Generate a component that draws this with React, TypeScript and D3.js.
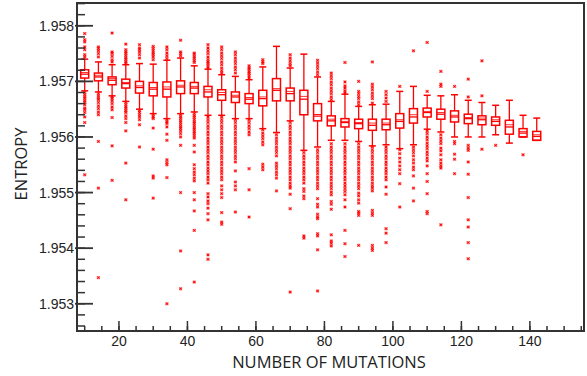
import React from 'react';
import * as d3 from 'd3';

// number of mutations for each box
const mutations = [10, 14, 18, 22, 26, 30, 34, 38, 42, 46, 50, 54, 58, 62, 66, 70, 74, 78, 82, 86, 90, 94, 98, 102, 106, 110, 114, 118, 122, 126, 130, 134, 138, 142];

const whiskerHigh = [1.95740, 1.95735, 1.95730, 1.95730, 1.95732, 1.95731, 1.95738, 1.95742, 1.95728, 1.95722, 1.95712, 1.95709, 1.95703, 1.95726, 1.95763, 1.95724, 1.95749, 1.95708, 1.95664, 1.95677, 1.95655, 1.95658, 1.95659, 1.95682, 1.95691, 1.95675, 1.95674, 1.95676, 1.95666, 1.95662, 1.95657, 1.95666, 1.95639, 1.95634];
const q3Values = [1.95721, 1.95715, 1.95708, 1.95704, 1.95700, 1.95698, 1.95699, 1.95701, 1.95698, 1.95691, 1.95685, 1.95681, 1.95678, 1.95684, 1.95705, 1.95688, 1.95684, 1.95660, 1.95638, 1.95633, 1.95632, 1.95632, 1.95632, 1.95642, 1.95651, 1.95652, 1.95650, 1.95647, 1.95641, 1.95638, 1.95636, 1.95630, 1.95615, 1.95610];
const medianValues = [1.95713, 1.95708, 1.95702, 1.95696, 1.95689, 1.95686, 1.95686, 1.95690, 1.95688, 1.95681, 1.95676, 1.95672, 1.95668, 1.95669, 1.95684, 1.95678, 1.95668, 1.95640, 1.95629, 1.95626, 1.95624, 1.95621, 1.95622, 1.95628, 1.95636, 1.95644, 1.95641, 1.95636, 1.95633, 1.95631, 1.95628, 1.95618, 1.95607, 1.95601];
const meanValues = [1.95716, 1.95711, 1.95705, 1.95698, 1.95692, 1.95689, 1.95690, 1.95693, 1.95691, 1.95685, 1.95680, 1.95675, 1.95671, 1.95672, 1.95687, 1.95682, 1.95673, 1.95637, 1.95632, 1.95628, 1.95626, 1.95625, 1.95625, 1.95631, 1.95640, 1.95646, 1.95644, 1.95639, 1.95635, 1.95634, 1.95631, 1.95622, 1.95610, 1.95604];
const q1Values = [1.95706, 1.95701, 1.95694, 1.95688, 1.95679, 1.95674, 1.95672, 1.95678, 1.95678, 1.95672, 1.95666, 1.95662, 1.95660, 1.95656, 1.95665, 1.95665, 1.95640, 1.95629, 1.95620, 1.95618, 1.95615, 1.95612, 1.95613, 1.95616, 1.95625, 1.95636, 1.95632, 1.95627, 1.95624, 1.95622, 1.95621, 1.95605, 1.95600, 1.95594];
const whiskerLow = [1.95683, 1.95681, 1.95674, 1.95664, 1.95650, 1.95642, 1.95633, 1.95642, 1.95645, 1.95639, 1.95639, 1.95633, 1.95633, 1.95615, 1.95608, 1.95629, 1.95576, 1.95582, 1.95594, 1.95594, 1.95592, 1.95584, 1.95586, 1.95579, 1.95586, 1.95614, 1.95609, 1.95600, 1.95600, 1.95600, 1.95604, 1.95589, 1.95600, 1.95594];

const outliers = [
  [1.95786, 1.95775, 1.95771, 1.95762, 1.95757, 1.95748, 1.95744, 1.95680, 1.95676, 1.95672, 1.95669, 1.95665, 1.95662, 1.95658, 1.95652, 1.95649, 1.95644, 1.95636, 1.95626, 1.95532],
  [1.95762, 1.95759, 1.95755, 1.95750, 1.95744, 1.95678, 1.95674, 1.95670, 1.95667, 1.95662, 1.95656, 1.95651, 1.95645, 1.95640, 1.95592, 1.95508, 1.95347],
  [1.95787, 1.95753, 1.95750, 1.95745, 1.95739, 1.95735, 1.95672, 1.95669, 1.95665, 1.95660, 1.95654, 1.95649, 1.95635, 1.95584, 1.95522],
  [1.95767, 1.95757, 1.95753, 1.95750, 1.95746, 1.95742, 1.95739, 1.95735, 1.95732, 1.95662, 1.95658, 1.95654, 1.95651, 1.95647, 1.95644, 1.95638, 1.95633, 1.95626, 1.95611, 1.95553, 1.95487],
  [1.95766, 1.95760, 1.95757, 1.95753, 1.95748, 1.95742, 1.95647, 1.95644, 1.95640, 1.95636, 1.95631, 1.95622, 1.95582],
  [1.95763, 1.95759, 1.95755, 1.95751, 1.95748, 1.95744, 1.95739, 1.95640, 1.95636, 1.95633, 1.95616, 1.95578, 1.95530, 1.95526, 1.95490],
  [1.95762, 1.95757, 1.95751, 1.95746, 1.95741, 1.95631, 1.95627, 1.95624, 1.95618, 1.95605, 1.95594, 1.95559, 1.95554, 1.95550, 1.95527, 1.95300],
  [1.95774, 1.95753, 1.95750, 1.95746, 1.95640, 1.95636, 1.95633, 1.95629, 1.95626, 1.95622, 1.95618, 1.95615, 1.95611, 1.95606, 1.95600, 1.95585, 1.95500, 1.95395, 1.95327],
  [1.95751, 1.95748, 1.95744, 1.95741, 1.95737, 1.95734, 1.95642, 1.95638, 1.95635, 1.95631, 1.95627, 1.95624, 1.95620, 1.95616, 1.95613, 1.95609, 1.95606, 1.95602, 1.95598, 1.95585, 1.95573, 1.95550, 1.95543, 1.95537, 1.95532, 1.95526, 1.95521, 1.95500, 1.95487, 1.95467, 1.95432, 1.95339],
  [1.95766, 1.95760, 1.95755, 1.95750, 1.95744, 1.95739, 1.95735, 1.95732, 1.95728, 1.95724, 1.95636, 1.95631, 1.95626, 1.95620, 1.95615, 1.95609, 1.95604, 1.95598, 1.95593, 1.95588, 1.95582, 1.95577, 1.95572, 1.95566, 1.95561, 1.95555, 1.95550, 1.95544, 1.95539, 1.95534, 1.95528, 1.95523, 1.95517, 1.95498, 1.95492, 1.95485, 1.95480, 1.95472, 1.95462, 1.95451, 1.95388, 1.95380],
  [1.95762, 1.95757, 1.95751, 1.95746, 1.95741, 1.95735, 1.95730, 1.95724, 1.95719, 1.95715, 1.95636, 1.95631, 1.95626, 1.95620, 1.95615, 1.95609, 1.95604, 1.95598, 1.95593, 1.95588, 1.95582, 1.95577, 1.95572, 1.95566, 1.95561, 1.95555, 1.95550, 1.95544, 1.95539, 1.95534, 1.95528, 1.95523, 1.95512, 1.95505, 1.95498, 1.95491, 1.95464, 1.95447, 1.95443],
  [1.95753, 1.95748, 1.95742, 1.95737, 1.95732, 1.95726, 1.95721, 1.95715, 1.95631, 1.95626, 1.95620, 1.95615, 1.95609, 1.95604, 1.95598, 1.95593, 1.95588, 1.95582, 1.95577, 1.95572, 1.95566, 1.95561, 1.95555, 1.95539, 1.95519, 1.95512, 1.95505, 1.95465],
  [1.95728, 1.95724, 1.95721, 1.95717, 1.95714, 1.95710, 1.95706, 1.95631, 1.95626, 1.95620, 1.95615, 1.95609, 1.95604, 1.95543, 1.95505, 1.95456],
  [1.95739, 1.95735, 1.95732, 1.95613, 1.95607, 1.95602, 1.95597, 1.95591, 1.95586, 1.95551, 1.95546, 1.95541],
  [1.95604, 1.95598, 1.95593, 1.95588, 1.95582, 1.95577, 1.95572, 1.95566, 1.95553, 1.95548, 1.95543, 1.95537, 1.95532, 1.95526, 1.95503],
  [1.95748, 1.95742, 1.95737, 1.95732, 1.95728, 1.95626, 1.95620, 1.95615, 1.95609, 1.95604, 1.95598, 1.95593, 1.95588, 1.95582, 1.95577, 1.95572, 1.95566, 1.95561, 1.95555, 1.95550, 1.95544, 1.95539, 1.95534, 1.95528, 1.95523, 1.95517, 1.95512, 1.95508, 1.95497, 1.95471, 1.95321],
  [1.95572, 1.95566, 1.95561, 1.95555, 1.95550, 1.95544, 1.95539, 1.95534, 1.95528, 1.95523, 1.95517, 1.95507, 1.95502, 1.95494, 1.95489, 1.95422, 1.95418],
  [1.95738, 1.95733, 1.95728, 1.95723, 1.95717, 1.95712, 1.95577, 1.95572, 1.95566, 1.95561, 1.95555, 1.95550, 1.95544, 1.95539, 1.95534, 1.95528, 1.95523, 1.95517, 1.95512, 1.95507, 1.95489, 1.95479, 1.95474, 1.95461, 1.95456, 1.95453, 1.95426, 1.95422, 1.95397, 1.95323],
  [1.95715, 1.95710, 1.95705, 1.95699, 1.95694, 1.95688, 1.95683, 1.95678, 1.95672, 1.95667, 1.95588, 1.95582, 1.95577, 1.95572, 1.95566, 1.95561, 1.95555, 1.95550, 1.95544, 1.95539, 1.95534, 1.95528, 1.95523, 1.95517, 1.95512, 1.95507, 1.95501, 1.95496, 1.95484, 1.95479, 1.95470, 1.95424, 1.95413, 1.95409, 1.95404],
  [1.95734, 1.95699, 1.95692, 1.95688, 1.95683, 1.95679, 1.95588, 1.95582, 1.95577, 1.95572, 1.95566, 1.95561, 1.95555, 1.95550, 1.95544, 1.95539, 1.95534, 1.95528, 1.95523, 1.95517, 1.95512, 1.95507, 1.95502, 1.95496, 1.95487, 1.95474, 1.95432, 1.95408, 1.95385],
  [1.95700, 1.95682, 1.95678, 1.95673, 1.95669, 1.95663, 1.95658, 1.95588, 1.95582, 1.95577, 1.95572, 1.95566, 1.95561, 1.95555, 1.95550, 1.95544, 1.95539, 1.95534, 1.95528, 1.95523, 1.95517, 1.95512, 1.95507, 1.95499, 1.95494, 1.95487, 1.95481, 1.95466, 1.95463, 1.95459, 1.95405],
  [1.95735, 1.95695, 1.95690, 1.95685, 1.95679, 1.95674, 1.95669, 1.95661, 1.95582, 1.95577, 1.95572, 1.95566, 1.95561, 1.95555, 1.95550, 1.95544, 1.95539, 1.95534, 1.95528, 1.95523, 1.95517, 1.95512, 1.95508, 1.95503, 1.95468, 1.95463, 1.95459, 1.95405, 1.95400, 1.95396],
  [1.95682, 1.95676, 1.95670, 1.95664, 1.95582, 1.95577, 1.95572, 1.95566, 1.95561, 1.95555, 1.95550, 1.95544, 1.95539, 1.95534, 1.95528, 1.95523, 1.95510, 1.95497, 1.95435, 1.95427, 1.95410],
  [1.95691, 1.95577, 1.95570, 1.95562, 1.95555, 1.95548, 1.95541, 1.95534, 1.95516, 1.95474],
  [1.95755, 1.95582, 1.95577, 1.95572, 1.95566, 1.95559, 1.95553, 1.95546, 1.95541, 1.95530, 1.95508, 1.95485],
  [1.95770, 1.95682, 1.95611, 1.95606, 1.95600, 1.95595, 1.95589, 1.95584, 1.95579, 1.95573, 1.95568, 1.95562, 1.95557, 1.95548, 1.95534, 1.95520, 1.95498, 1.95466, 1.95462],
  [1.95718, 1.95695, 1.95691, 1.95604, 1.95598, 1.95593, 1.95588, 1.95580, 1.95575, 1.95568, 1.95559, 1.95553, 1.95548, 1.95544, 1.95442],
  [1.95691, 1.95592, 1.95588, 1.95569, 1.95560, 1.95534],
  [1.95704, 1.95672, 1.95585, 1.95580, 1.95576, 1.95555, 1.95533, 1.95491, 1.95451, 1.95438, 1.95410, 1.95381],
  [1.95737, 1.95674, 1.95578],
  [1.95585],
  [],
  [1.95568],
  [],
];

const yTickLabels = ['1.953', '1.954', '1.955', '1.956', '1.957', '1.958'];
const xTickLabels = ['20', '40', '60', '80', '100', '120', '140'];

const W = 587;
const H = 376;
const left = 77;
const right = 584;
const top = 3;
const bottom = 331;
const red = '#ff0000';
const axisColor = '#333';

const App = () => {
  const x = d3.scaleLinear().domain([7.75, 155.8]).range([left, right]);
  const y = d3.scaleLinear().domain([1.95251, 1.95841]).range([bottom, top]);

  // minor tick positions
  const yMinor = d3.range(19526, 19585, 2).map(v => v / 10000);
  const xMinor = d3.range(10, 156, 5);
  const boxW = 8;
  const capW = 7;

  return (
    <svg width={W} height={H} style={{ position: 'absolute', left: 0, top: 0, background: '#fff' }}>
      {/* boxes */}
      <g>
        {mutations.map((m, i) => {
          const cx = x(m);
          return (
            <g key={m}>
              <line x1={cx} x2={cx} y1={y(whiskerHigh[i])} y2={y(q3Values[i])} stroke={red} strokeWidth={1.3} />
              <line x1={cx} x2={cx} y1={y(q1Values[i])} y2={y(whiskerLow[i])} stroke={red} strokeWidth={1.3} />
              <line x1={cx - capW / 2} x2={cx + capW / 2} y1={y(whiskerHigh[i])} y2={y(whiskerHigh[i])} stroke={red} strokeWidth={1.5} />
              <line x1={cx - capW / 2} x2={cx + capW / 2} y1={y(whiskerLow[i])} y2={y(whiskerLow[i])} stroke={red} strokeWidth={1.5} />
              <rect x={cx - boxW / 2} y={y(q3Values[i])} width={boxW} height={Math.max(0, y(q1Values[i]) - y(q3Values[i]))}
                fill="none" stroke={red} strokeWidth={1.5} />
              <line x1={cx - boxW / 2} x2={cx + boxW / 2} y1={y(medianValues[i])} y2={y(medianValues[i])} stroke={red} strokeWidth={1.3} />
              <line x1={cx - boxW / 2} x2={cx + boxW / 2} y1={y(meanValues[i])} y2={y(meanValues[i])} stroke={red} strokeWidth={1} opacity={0.8} />
              {outliers[i].map((v, j) => (
                <g key={j} transform={`translate(${cx},${y(v)})`}>
                  <rect x={-1.6} y={-1.6} width={3.2} height={3.2} fill={red} opacity={0.5} />
                  <path d="M-1,-1L1,1M-1,1L1,-1" stroke={red} strokeWidth={1} />
                </g>
              ))}
            </g>
          );
        })}
      </g>

      {/* frame */}
      <rect x={left} y={top} width={right - left} height={bottom - top} fill="none" stroke={axisColor} strokeWidth={2} />

      {/* y ticks */}
      {yMinor.map(v => (
        <line key={v} x1={left} x2={left + 8} y1={y(v)} y2={y(v)} stroke={axisColor} strokeWidth={1.5} />
      ))}
      {yTickLabels.map(t => (
        <g key={t}>
          <line x1={left - 2} x2={left + 16} y1={y(+t)} y2={y(+t)} stroke={axisColor} strokeWidth={1.8} />
          <text x={left - 3} y={y(+t) + 5} textAnchor="end" fontFamily="Liberation Sans, Arial, sans-serif" fontSize={14} fill="#222">{t}</text>
        </g>
      ))}

      {/* x ticks */}
      {xMinor.map(v => (
        <line key={v} x1={x(v)} x2={x(v)} y1={bottom} y2={bottom - 5} stroke={axisColor} strokeWidth={1.5} />
      ))}
      {xTickLabels.map(t => (
        <g key={t}>
          <line x1={x(+t)} x2={x(+t)} y1={bottom} y2={bottom - 10} stroke={axisColor} strokeWidth={1.5} />
          <text x={x(+t)} y={bottom + 15} textAnchor="middle" fontFamily="Liberation Sans, Arial, sans-serif" fontSize={14} fill="#222">{t}</text>
        </g>
      ))}

      {/* axis titles */}
      <text x={329} y={368} textAnchor="middle" fontFamily="Open Sans, sans-serif" fontSize={16.5} fill="#222">NUMBER OF MUTATIONS</text>
      <text transform={`translate(27,164) rotate(-90)`} textAnchor="middle" fontFamily="Open Sans, sans-serif" fontSize={16.5} fill="#222">ENTROPY</text>
    </svg>
  );
};

export default App;
